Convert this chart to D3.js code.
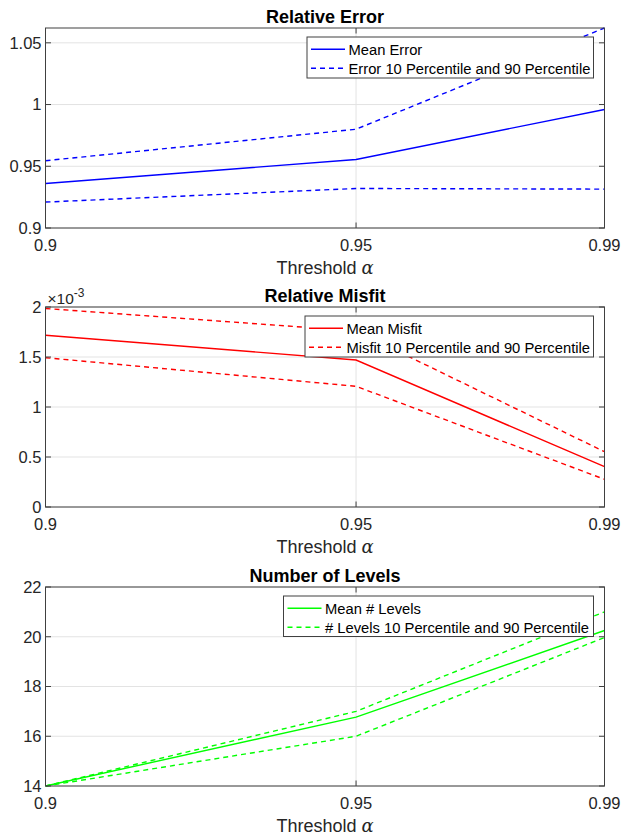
<!DOCTYPE html>
<html>
<head>
<meta charset="utf-8">
<script src="https://cdn.jsdelivr.net/npm/d3@7"></script>
<style>
  html, body { margin: 0; padding: 0; background: #ffffff; }
  svg { display: block; font-family: "Liberation Sans", Arial, Helvetica, sans-serif; }
</style>
</head>
<body>
<svg id="chart" width="621" height="836"></svg>
<script>
// Threshold values on the x axis
const alpha = [0.9, 0.95, 0.99];
const alphaTicks = [0.9, 0.95, 0.99];
const alphaTickLabels = ["0.9", "0.95", "0.99"];

// Relative error
const errMean = [0.936, 0.9555, 0.996];
const errP90 = [0.9545, 0.980, 1.062];
const errP10 = [0.921, 0.932, 0.9315];
const errTicks = [0.9, 0.95, 1, 1.05];
const errTickLabels = ["0.9", "0.95", "1", "1.05"];

// Relative misfit
const misfitMean = [1.717e-3, 1.47e-3, 0.403e-3];
const misfitP90 = [1.985e-3, 1.76e-3, 0.553e-3];
const misfitP10 = [1.493e-3, 1.207e-3, 0.277e-3];
const misfitTicks = [0, 0.5e-3, 1e-3, 1.5e-3, 2e-3];
const misfitTickLabels = ["0", "0.5", "1", "1.5", "2"];

// Number of levels
const levelsMean = [14, 16.77, 20.25];
const levelsP90 = [14, 17, 21];
const levelsP10 = [14, 16, 19.97];
const levelsTicks = [14, 16, 18, 20, 22];
const levelsTickLabels = ["14", "16", "18", "20", "22"];

const svg = d3.select("#chart");
const left = 45.5, right = 604.5;
const axisColor = "#404040";
const gridColor = "#e3e3e3";
const dash = "5,4";

const panels = [
  {
    title: "Relative Error", top: 28, bottom: 228, domain: [0.9, 1.062],
    ticks: errTicks, labels: errTickLabels, color: "#0000ff",
    mean: errMean, p90: errP90, p10: errP10,
    legend: ["Mean Error", "Error 10 Percentile and 90 Percentile"],
    legendBox: { x0: 307, x1: 593.5, y0: 37, y1: 78 }
  },
  {
    title: "Relative Misfit", top: 307, bottom: 507, domain: [0, 2e-3],
    ticks: misfitTicks, labels: misfitTickLabels, color: "#ff0000",
    mean: misfitMean, p90: misfitP90, p10: misfitP10, exponent: "-3",
    legend: ["Mean Misfit", "Misfit 10 Percentile and 90 Percentile"],
    legendBox: { x0: 305, x1: 593.5, y0: 316, y1: 357 }
  },
  {
    title: "Number of Levels", top: 587, bottom: 786, domain: [14, 22],
    ticks: levelsTicks, labels: levelsTickLabels, color: "#00ff00",
    mean: levelsMean, p90: levelsP90, p10: levelsP10,
    legend: ["Mean # Levels", "# Levels 10 Percentile and 90 Percentile"],
    legendBox: { x0: 283.5, x1: 593.5, y0: 596, y1: 636.5 }
  }
];

const x = d3.scaleLinear().domain([0.9, 0.99]).range([left, right]);

panels.forEach((p, i) => {
  const y = d3.scaleLinear().domain(p.domain).range([p.bottom, p.top]);
  const g = svg.append("g");

  // grid
  g.append("g").selectAll("line").data(p.ticks).join("line")
    .attr("x1", left).attr("x2", right)
    .attr("y1", d => y(d)).attr("y2", d => y(d))
    .attr("stroke", gridColor).attr("stroke-width", 1);
  g.append("g").selectAll("line").data(alphaTicks).join("line")
    .attr("x1", d => x(d)).attr("x2", d => x(d))
    .attr("y1", p.top).attr("y2", p.bottom)
    .attr("stroke", gridColor).attr("stroke-width", 1);

  // data lines
  const clipId = "clip" + i;
  svg.append("defs").append("clipPath").attr("id", clipId)
    .append("rect").attr("x", left).attr("y", p.top - 1)
    .attr("width", right - left).attr("height", p.bottom - p.top + 2);
  const line = d3.line().x((d, k) => x(alpha[k])).y(d => y(d));
  const lines = g.append("g").attr("clip-path", `url(#${clipId})`);
  lines.append("path").datum(p.mean).attr("d", line)
    .attr("fill", "none").attr("stroke", p.color).attr("stroke-width", 1.4);
  [p.p90, p.p10].forEach(s => {
    lines.append("path").datum(s).attr("d", line)
      .attr("fill", "none").attr("stroke", p.color).attr("stroke-width", 1.4)
      .attr("stroke-dasharray", dash);
  });

  // axes box with inward ticks on all sides
  const ax = g.append("g");
  const tl = 5.5;
  p.ticks.forEach(t => {
    ax.append("line").attr("x1", left).attr("x2", left + tl)
      .attr("y1", y(t)).attr("y2", y(t)).attr("stroke", axisColor);
    ax.append("line").attr("x1", right - tl).attr("x2", right)
      .attr("y1", y(t)).attr("y2", y(t)).attr("stroke", axisColor);
  });
  alphaTicks.forEach(t => {
    ax.append("line").attr("x1", x(t)).attr("x2", x(t))
      .attr("y1", p.bottom).attr("y2", p.bottom - tl).attr("stroke", axisColor);
    ax.append("line").attr("x1", x(t)).attr("x2", x(t))
      .attr("y1", p.top).attr("y2", p.top + tl).attr("stroke", axisColor);
  });
  ax.append("rect").attr("x", left).attr("y", p.top)
    .attr("width", right - left).attr("height", p.bottom - p.top)
    .attr("fill", "none").attr("stroke", axisColor).attr("stroke-width", 1);

  // tick labels
  g.append("g").selectAll("text").data(p.ticks).join("text")
    .attr("x", left - 4).attr("y", d => y(d)).attr("dy", "0.36em")
    .attr("text-anchor", "end").attr("font-size", 16.5).attr("fill", "#262626")
    .text((d, k) => p.labels[k]);
  g.append("g").selectAll("text").data(alphaTicks).join("text")
    .attr("x", d => x(d)).attr("y", p.bottom + 23)
    .attr("text-anchor", "middle").attr("font-size", 16.5).attr("fill", "#262626")
    .text((d, k) => alphaTickLabels[k]);

  // exponent marker
  if (p.exponent) {
    const t = g.append("text").attr("x", left + 2).attr("y", p.top - 3)
      .attr("font-size", 15.5).attr("fill", "#262626");
    t.append("tspan").text("\u00d710");
    t.append("tspan").attr("dy", -7).attr("font-size", 12).text(p.exponent);
  }

  // x label
  const xl = g.append("text").attr("x", (left + right) / 2).attr("y", p.bottom + 45.5)
    .attr("text-anchor", "middle").attr("font-size", 18).attr("fill", "#262626");
  xl.append("tspan").text("Threshold ");
  xl.append("tspan").attr("font-family", "'DejaVu Serif', 'Liberation Serif', serif")
    .attr("font-style", "italic").text("\u03b1");

  // title
  g.append("text").attr("x", (left + right) / 2).attr("y", p.top - 5.5)
    .attr("text-anchor", "middle").attr("font-size", 18).attr("font-weight", "bold")
    .attr("fill", "#000").text(p.title);

  // legend
  const lb = p.legendBox;
  const lg = g.append("g");
  lg.append("rect").attr("x", lb.x0).attr("y", lb.y0)
    .attr("width", lb.x1 - lb.x0).attr("height", lb.y1 - lb.y0)
    .attr("fill", "#fff").attr("stroke", axisColor).attr("stroke-width", 1);
  const rows = [lb.y0 + 12.3, lb.y0 + 31.3];
  p.legend.forEach((label, k) => {
    lg.append("line").attr("x1", lb.x0 + 4).attr("x2", lb.x0 + 38)
      .attr("y1", rows[k]).attr("y2", rows[k])
      .attr("stroke", p.color).attr("stroke-width", 1.4)
      .attr("stroke-dasharray", k === 0 ? null : dash);
    lg.append("text").attr("x", lb.x0 + 41.5).attr("y", rows[k]).attr("dy", "0.36em")
      .attr("font-size", 14.75).attr("fill", "#000").text(label);
  });
});
</script>
</body>
</html>
